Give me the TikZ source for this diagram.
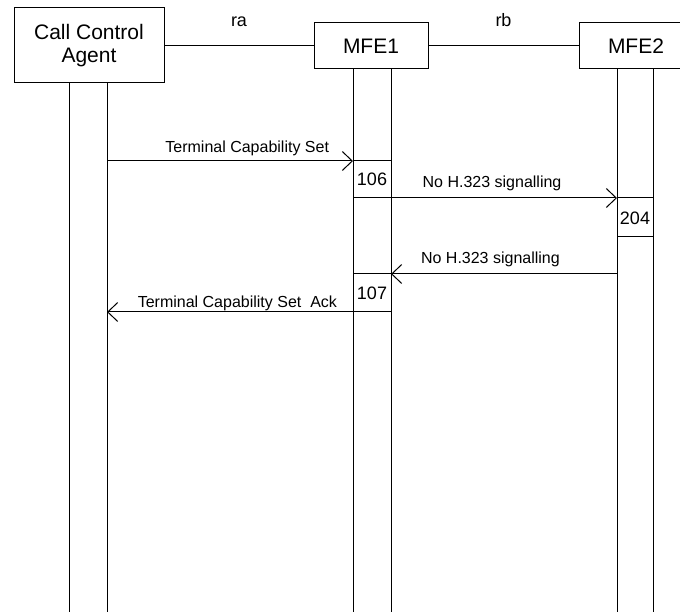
\documentclass[tikz,border=0pt]{standalone}
\usepackage{fontspec}
\setmainfont{Liberation Sans}
\usetikzlibrary{arrows.meta}
\tikzset{
  ln/.style={line width=1pt, line cap=rect},
  ent/.style={draw, line width=1pt, inner sep=0pt, font=\fontsize{21}{23.5}\selectfont, align=center},
  msg/.style={ln, -{Straight Barb[length=10pt,width=19pt,line width=1pt]}},
  lbl/.style={font=\fontsize{16}{18}\selectfont, inner sep=0pt},
  num/.style={font=\fontsize{18}{20}\selectfont, inner sep=0pt},
  iface/.style={font=\fontsize{18}{20}\selectfont, inner sep=0pt},
}
\begin{document}
\begin{tikzpicture}[x=1pt,y=-1pt]
\useasboundingbox (0,0) rectangle (680,612);
% entity boxes
\node[ent, minimum width=150pt, minimum height=75pt] (cca) at (89,45.5) {Call Control\\Agent};
\node[ent, minimum width=114pt, minimum height=46pt] (mfe1) at (371,46) {MFE1};
\node[ent, minimum width=114pt, minimum height=46pt] (mfe2) at (636,46) {MFE2};
% interfaces
\draw[ln] (cca.east |- 0,46) -- (mfe1.west) node[iface, midway, above=19pt] {ra};
\draw[ln] (mfe1.east) -- (mfe2.west) node[iface, midway, above=19pt] {rb};
% lifelines
\coordinate (a1t) at (69,83);  \coordinate (a1b) at (69,612);
\coordinate (a2t) at (107,83); \coordinate (a2b) at (107,612);
\coordinate (b1t) at (353,69); \coordinate (b1b) at (353,612);
\coordinate (b2t) at (391,69); \coordinate (b2b) at (391,612);
\coordinate (c1t) at (617,69); \coordinate (c1b) at (617,612);
\coordinate (c2t) at (653,69); \coordinate (c2b) at (653,612);
\draw[ln] (a1t) -- (a1b);
\draw[ln] (a2t) -- (a2b);
\draw[ln] (b1t) -- (b1b);
\draw[ln] (b2t) -- (b2b);
\draw[ln] (c1t) -- (c1b);
\draw[ln] (c2t) -- (c2b);
% messages
\coordinate (m1s) at (107,161); \coordinate (m1e) at (353,161);
\coordinate (p1a) at (391,161);
\draw[msg] (m1s) -- (m1e) node[lbl, pos=0.57, above=5pt] {Terminal Capability Set};
\draw[ln] (m1e) -- (p1a);
\node[num] (n106) at (372,179) {106};
\coordinate (m2s) at (391,198); \coordinate (m2e) at (617,198);
\coordinate (p2a) at (353,198);
\draw[ln] (p2a) -- (m2s);
\draw[msg] (m2s) -- (m2e) node[lbl, pos=0.447, above=7pt] {No H.323 signalling};
\coordinate (p3b) at (653,198);
\draw[ln] (m2e) -- (p3b);
\node[num] (n204) at (635,218) {204};
\coordinate (p4a) at (617,237); \coordinate (p4b) at (653,237);
\draw[ln] (p4a) -- (p4b);
\coordinate (m3s) at (617,274); \coordinate (m3e) at (391,274);
\coordinate (p5a) at (353,274);
\draw[msg] (m3s) -- (m3e) node[lbl, pos=0.56, above=7pt] {No H.323 signalling};
\draw[ln] (m3e) -- (p5a);
\node[num] (n107) at (372,293) {107};
\coordinate (m4s) at (353,312); \coordinate (m4e) at (107,312);
\coordinate (p6a) at (391,312);
\draw[ln] (p6a) -- (m4s);
\draw[msg] (m4s) -- (m4e) node[lbl, pos=0.47, above=1pt] {Terminal Capability Set\ \ Ack};
\end{tikzpicture}
\end{document}
